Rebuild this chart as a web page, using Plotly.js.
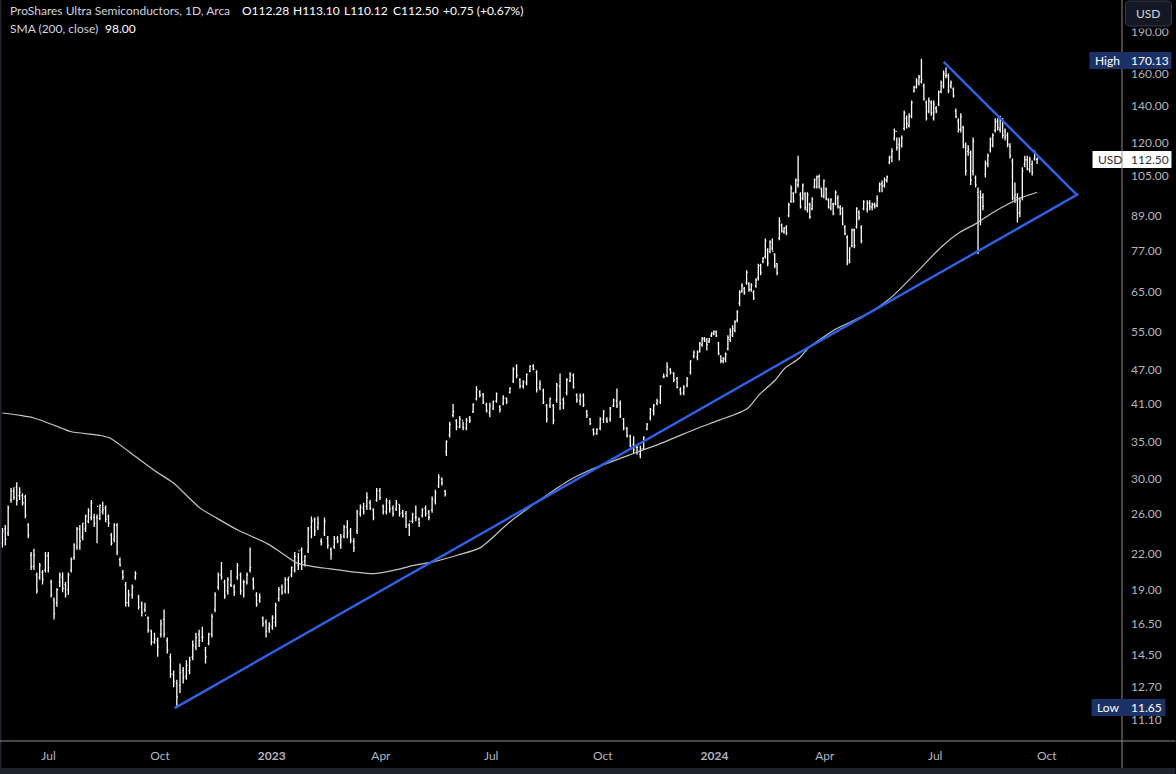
<!DOCTYPE html>
<html><head><meta charset="utf-8">
<script src="https://cdn.plot.ly/plotly-3.0.1.min.js"></script>
<style>html,body{margin:0;padding:0;background:#000;overflow:hidden}#chart{width:1176px;height:774px}</style>
</head><body><div id="chart"></div>
<script>
// Period 1: May - Sep 2022
const start1='2022-05-24', end1='2022-09-05';
const high1=[24.5,24.8,26.9,28.9,29,29.6,29,28.3,28.1,25,22.2,22.5,20.4,21.2,20.6,22.2,22.2,19.8,18.4,19.1,20.4,20.4,19.6,20.4,21.7,23,24.6,24.8,25,25.9,26.6,27.5,26,25.9,27,27.3,26.9,25.9,24,25,25,21.7,20.6,19.6,19];
const low1=[22.6,22.8,23.7,27.2,27.5,26.9,27.5,26.9,25.5,23.5,20.6,20.6,18.7,19.8,19.4,20.4,20.4,18.4,16.8,17.7,19.2,18.8,18.4,18.6,20.4,21.5,22.4,22.4,23.3,24.1,25,25.3,24.6,23,25.3,25.9,25.1,24.6,22.8,23.1,21.9,20.9,19.8,17.7,17.7];
const open1=[23.0,24.4,24.0,27.5,28.5,29.0,28.0,28.0,27.9,24.8,21.9,20.9,20.2,20.0,20.4,20.6,21.9,19.6,18.2,18.0,19.6,20.0,19.4,19.0,20.6,21.7,22.6,24.4,23.6,24.4,25.2,25.6,25.6,25.6,25.5,26.2,26.6,25.7,23.8,23.4,24.8,21.5,20.4,19.4,18.0];
const close1=[24.2,23.4,26.6,28.6,27.8,27.5,28.4,27.2,25.8,23.8,20.9,21.9,18.9,21.0,19.8,21.8,20.8,18.6,17.2,19.0,20.2,19.1,18.6,20.2,21.5,22.8,24.4,23.2,25.0,25.7,26.3,27.2,25.0,26.8,26.9,26.4,25.4,25.0,23.0,24.8,22.2,21.0,20.0,18.0,18.6];
// Period 2: Sep 2022 - Jan 2023
const start2='2022-09-08', end2='2023-01-20';
const high2=[19.4,20.5,18.6,18.1,18,17,16.1,15.9,15.6,16.8,17.5,15.6,14.6,13.6,13.1,14,13.8,14.2,14.4,15.4,15.9,16.1,16.3,15,15.9,17.2,18.8,20.4,21.3,19.8,20,20.6,19.4,21.2,20.4,19.8,20.4,22.6,20,18.8,18.7,17,16.8,16.6,17.1,18,19.2,19.4,20,20,20.9,22.2];
const low2=[18.3,19.8,17.5,17,17.3,15.9,15.1,15.2,14.4,15.6,15.6,14.6,13.2,12.7,11.65,12.4,12.9,13.1,13.4,14.2,14.8,15,15.3,14,15.1,15.6,17.3,19,19.8,18.3,18.6,19.2,18.5,19.8,18.6,18.4,19.4,20.4,19,17.7,18,16.3,15.6,15.9,16.1,16.3,18.1,18.6,18.7,18.7,20,20.4];
const open2=[18.6,20.0,18.4,17.9,17.5,16.9,16.0,15.3,15.4,15.8,16.8,15.4,14.4,13.4,12.9,12.8,13.6,13.3,13.6,14.4,15.0,15.8,15.6,14.8,15.2,15.8,17.5,19.2,20.2,19.6,18.9,19.4,19.2,20.0,20.2,19.6,19.6,20.6,19.8,18.6,18.2,16.9,16.6,16.2,16.3,16.6,18.3,19.2,18.9,19.8,20.2,20.6];
const close2=[19.2,20.3,17.7,17.3,17.1,16.1,15.3,15.5,15.0,16.5,15.8,14.8,13.4,13.0,12.2,13.5,13.2,13.9,14.2,15.1,15.6,15.4,15.6,14.4,15.8,17.0,18.6,20.2,20.0,18.5,19.8,19.3,18.8,21.0,18.9,19.6,20.2,20.8,19.2,17.9,18.4,16.5,16.0,16.4,16.9,17.8,19.0,18.8,19.8,20.0,20.8,21.8];
// Period 3: Jan - May 2023
const start3='2023-01-23', end3='2023-05-24';
const high3=[22.1,22.6,21.9,24.6,25.7,25.6,25.7,23.5,25.6,23.7,22.6,23.7,23.7,23.9,24.8,25.3,24.5,23.5,26.4,27,27.2,28.4,27.5,26.6,28.9,28.9,27,27.7,27.5,26.9,27.5,27,26.4,26.3,25,26.1,26.9,25.6,26.6,26.9,26.4,27.9,28.7,30.6,30.2,28.7];
const low3=[20.6,20.6,20.9,22.1,23.5,23.7,24.3,22.8,23.7,22.5,21.5,22.5,23,22.5,23.5,23.5,23,22.2,23.9,25.7,25.9,26.4,26.4,25.3,27.3,27.5,25.9,25.9,26.1,25.7,26.3,25.7,25.6,24.5,23.7,25,25.2,24.6,25.6,25.7,25.3,26.1,27,28.9,29.2,27.9];
const open3=[21.0,22.4,21.4,22.3,24.6,25.4,24.6,23.2,24.0,23.5,22.4,22.7,23.5,22.8,23.7,24.6,24.2,23.2,24.2,26.0,26.6,26.8,27.2,26.4,27.5,28.6,26.8,26.2,27.2,26.6,26.5,27.0,26.1,26.0,24.8,25.2,25.6,25.4,25.8,26.6,26.2,26.4,27.4,29.2,30.0,28.5];
const close3=[22.3,21.3,21.8,24.4,25.2,24.2,25.0,23.1,25.2,22.8,22.0,23.4,23.2,23.6,24.6,24.0,23.3,22.6,26.2,26.7,26.2,27.8,26.6,25.6,28.6,27.8,26.2,27.4,26.5,26.0,27.2,26.0,25.8,24.8,25.2,25.9,25.6,25.0,26.4,26.0,25.6,27.6,28.4,30.2,29.5,28.2];
// Period 4: May - Dec 2023
const start4='2023-05-25', end4='2023-12-15';
const high4=[35.2,38,40.9,38.4,38.9,38,38.6,38.9,41,44,43.3,42.8,41.1,41.1,41.5,42.9,40.7,42.4,42,43.8,47.6,48.2,45.5,45.1,46.4,48,48.2,47,45.1,43.6,40.9,42,40.9,44.6,46.4,42,45.5,46.6,46.4,42.7,42.7,42.7,39.9,38.6,37,37,38.7,39.9,38.7,40.4,41.8,43.6,41.5,38.6,37.2,36,35.8,34.6,34.4,35.8,37.8,40.2,40.9,41.8,44.2,46.4,48.6,47.4,46.6,45.7,43.8,44.2,45.7,49,51];
const low4=[33,35.6,38.7,36.7,37,36.7,36.7,37.8,39.4,41.5,42,40.9,39.5,38.7,39.9,41.1,39.5,40.7,40.9,42.7,44.6,45.5,43.6,43.6,44.2,46.6,47,42.9,43.3,40.9,37.9,40.2,37.6,41.1,39.9,40,42.4,44.8,43.6,41.1,40.7,40.4,38.6,37.5,35.9,36,36.7,37.8,37.8,38,40.4,40.2,38.6,36.7,35.6,34.2,33.4,33.2,32.7,33.8,36.7,38.2,39,40.7,40.9,45.5,45.7,46.2,44.8,43.6,42.4,42.4,43.8,46.2,49.4];
const open4=[33.6,36.0,39.0,38.2,37.2,38.2,37.0,38.6,39.6,41.8,43.0,42.6,40.8,39.4,40.2,41.4,40.4,41.0,41.8,42.9,45.0,47.8,45.2,44.0,44.6,46.8,47.8,46.6,43.8,43.2,40.6,40.6,40.6,41.6,44.0,41.6,42.8,45.0,46.0,42.4,41.4,42.4,39.6,38.4,36.8,36.2,37.0,38.4,38.4,38.4,40.6,41.4,41.0,38.4,36.9,35.8,34.6,34.2,33.2,34.0,36.9,38.6,39.8,41.0,41.2,45.8,46.0,47.2,46.4,45.4,43.4,42.8,44.2,46.6,49.8];
const close4=[35.0,37.6,39.6,37.2,38.4,37.1,38.2,38.2,40.8,43.4,42.4,41.2,39.8,40.6,41.3,42.6,40.0,41.9,41.2,43.6,47.2,46.0,44.0,44.8,46.2,47.8,47.2,43.4,44.4,41.2,38.4,41.8,38.2,44.2,41.0,41.0,45.2,46.2,43.9,41.6,42.2,40.8,39.0,37.7,36.2,36.8,38.4,39.6,38.1,40.2,41.6,40.6,38.9,37.0,35.9,34.4,33.8,34.2,34.0,35.6,37.6,40.0,40.6,41.4,44.0,45.8,47.6,46.6,45.2,43.8,42.7,43.9,45.4,48.8,50.6];
// Period 5: Dec 2023 - May 2024
const start5='2023-12-18', end5='2024-05-03';
const high5=[51,52.8,53.9,53.9,53.7,53.7,55,55.4,55.4,52.8,50,49.6,50.6,54.3,55.9,56.6,57.8,60.2,65.4,67.3,66.3,71,67.6,67.3,65.4,68.7,73,73,75,81,77.8,80.4,81,76.2,73.1,88.4,86.2,84.8,85.5,93.9,100.8,98,103.8,114,98,101.6,98,98,93.9,96,103.8,105,105.5,100,103.3,100,95.6,95.6,93.9,98.8,96.8,92.9,92.1,85.5,82.1,78.1,84.4,84.4,92.1,91,85.5,94.8];
const low5=[49,50.6,51.8,52.8,51,52.6,53.9,54.3,53.9,50,48.4,48.4,48.6,51,52.8,53.9,55,57.3,61.3,64.7,64.2,66.9,65,65,62.8,66.1,68.1,69.6,73.1,74.6,72.2,76.2,77.1,71.6,69.6,80.4,83,82.6,82.1,88.4,93.9,93.9,97.6,100,91.7,94.8,91,90.2,87.9,91,99.6,99.6,99.6,96,95.6,94.8,91.7,91,89.1,92.9,91.7,89.1,85.5,82.1,72.5,73.1,78.1,77.8,84.4,87.3,79.4,91];
const open5=[49.6,50.9,52.2,53.6,53.4,52.9,54.2,54.6,55.0,52.4,49.8,48.8,49.2,51.4,53.4,54.4,55.4,57.8,62.0,65.2,65.8,67.4,67.2,65.6,64.8,66.6,68.8,72.4,73.6,75.2,77.2,76.8,77.8,75.8,73.0,81.0,85.6,83.2,84.8,89.0,94.4,97.6,98.2,101.0,97.0,95.6,97.4,91.2,93.2,91.6,100.2,100.4,104.6,99.4,96.2,99.4,95.0,91.6,93.4,93.4,95.6,92.0,91.6,85.0,81.4,74.0,78.6,83.8,85.0,90.2,84.8,91.6];
const close5=[50.6,52.4,53.4,53.0,52.2,53.4,54.8,55.2,54.2,50.4,48.9,49.4,50.2,53.8,55.2,55.8,57.4,59.8,64.8,66.6,64.8,70.4,65.6,66.8,63.4,68.2,72.4,70.4,74.6,80.2,73.2,79.8,76.8,72.4,70.2,87.0,83.6,84.6,82.8,93.0,99.6,94.6,103.0,103.0,92.4,100.8,92.0,97.0,88.6,95.4,103.2,104.4,100.4,96.8,102.8,95.4,92.2,95.0,89.8,98.0,92.4,90.0,86.0,82.6,73.2,77.8,83.8,78.6,91.6,88.4,80.2,94.2];
// Period 6: May - Sep 2024
const start6='2024-05-06', end6='2024-09-23';
const high6=[94.8,94.8,93.9,93.9,96.8,102.1,102.9,104.2,105,114,117.5,127.5,122.9,122.9,123.9,137.4,134.6,135.8,143.2,152.2,156.9,159,170.13,153.5,143.2,145,143.2,143.2,140,149.2,155.5,162,164,160,155.5,151,138.5,133,135.8,129,120.4,119,116.5,122.9,105,100,98.8,97.6,111.8,115,122.9,125,133,133,134.5,133,127.5,125.5,120,112.7,102,97.6,96,108.7,114,114,113.5,111.8,116.5,113.1];
const low6=[90.2,91,91,91.7,92.1,98,98,100,102.1,110,111,121.4,116.5,111.8,117.9,126.5,127.5,128,133,148,150.5,152.3,153.5,143.2,131.8,135.8,134.5,131.8,135.8,140,147.5,150.5,157,147.5,150.5,145,133,125.5,125.5,117.5,105,114,101,105,100,76,85.5,91,104.2,108.7,115.5,118,125.5,126.5,125.5,122.4,121.4,118,112.7,94.8,93.9,86.5,88.4,94.8,108.7,107.3,106.4,105,111.8,110.12];
const open6=[91.4,93.8,92.2,93.2,92.8,99.0,101.6,100.8,103.0,111.0,113.4,122.4,126.0,119.4,118.8,127.6,132.8,129.0,134.4,149.0,151.4,153.8,154.8,152.0,142.0,137.0,142.0,133.0,138.6,141.0,148.6,152.0,158.6,158.4,152.0,150.0,137.0,131.5,127.0,128.0,118.0,116.0,115.5,107.0,104.0,98.0,87.0,96.0,105.5,110.0,116.8,119.0,126.5,131.5,127.0,132.0,126.0,124.0,118.5,111.5,95.5,96.0,90.0,96.0,110.0,112.0,107.5,110.0,112.5,112.28];
const close6=[93.6,92.4,93.0,92.6,95.6,101.2,100.6,103.2,104.4,113.0,116.0,126.0,118.0,117.6,122.6,136.0,130.0,134.0,142.0,151.0,155.0,157.6,156.0,144.0,133.0,143.0,136.0,141.0,137.0,148.0,154.0,160.0,159.0,149.0,154.0,146.0,134.0,127.0,134.0,119.0,107.0,117.0,103.0,121.0,101.0,96.0,96.0,92.5,110.5,114.0,122.0,124.0,131.0,128.0,132.0,124.0,123.0,119.5,114.0,96.0,97.0,90.0,94.5,107.0,112.0,108.0,112.0,106.5,115.0,112.5];

const smaDates=['2022-05-24','2022-06-08','2022-06-19','2022-07-12','2022-07-19','2022-08-13','2022-08-21','2022-09-06','2022-09-26','2022-10-12','2022-11-03','2022-11-17','2022-12-04','2022-12-28','2023-01-08','2023-01-22','2023-02-18','2023-03-27','2023-04-17','2023-04-28','2023-05-14','2023-06-03','2023-06-22','2023-07-16','2023-08-10','2023-09-04','2023-09-20','2023-10-29','2023-11-20','2023-12-18','2024-01-05','2024-01-28','2024-02-07','2024-02-20','2024-02-28','2024-03-11','2024-03-19','2024-03-25','2024-04-08','2024-04-22','2024-05-08','2024-05-25','2024-06-18','2024-07-05','2024-07-21','2024-08-04','2024-08-17','2024-08-29','2024-09-11','2024-09-23'];
const smaValues=[39.4,39.0,38.6,37.0,36.5,35.9,35.5,33.5,31.1,29.5,26.6,25.5,24.3,23.0,22.2,21.2,20.7,20.3,20.7,21.0,21.3,21.9,22.6,25.1,27.5,29.9,31.1,33.5,34.9,37.0,38.25,40.1,42.5,45.1,47.4,49.4,51.7,52.8,55.4,57.3,59.7,63.3,71.3,77.8,83.0,86.2,90.0,93.1,96.0,98.0];

const supportDates=['2022-10-13','2024-10-27'];
const supportValues=[11.65,97.3];
const resistanceDates=['2024-07-08','2024-10-26'];
const resistanceValues=[167.9,96.9];

const priceTicks=[190,160,140,120,105,89,77,65,55,47,41,35,30,26,22,19,16.5,14.5,12.7,11.1];
const monthTicks=['2022-07-01','2022-10-01','2023-01-01','2023-04-01','2023-07-01','2023-10-01','2024-01-01','2024-04-01','2024-07-01','2024-10-01'];
const monthLabels=['Jul','Oct','<b>2023</b>','Apr','Jul','Oct','<b>2024</b>','Apr','Jul','Oct'];

const periods=[
 [start1,end1,open1,high1,low1,close1],[start2,end2,open2,high2,low2,close2],
 [start3,end3,open3,high3,low3,close3],[start4,end4,open4,high4,low4,close4],
 [start5,end5,open5,high5,low5,close5],[start6,end6,open6,high6,low6,close6]];

const FONT='Lato, "Noto Sans", sans-serif';
const W=1122.5, H=741;
const px=x=>x/W, py=y=>(H-y)/H;
const barLine={line:{color:'#ffffff',width:1.3}};

const traces=periods.map(([s,e,o,h,l,c])=>{
  const a=Date.parse(s), b=Date.parse(e), n=h.length;
  if(o.length!==n||l.length!==n||c.length!==n) throw new Error('length mismatch '+s+' '+[o.length,n,l.length,c.length]);
  const x=h.map((_,i)=>new Date(a+(b-a)*i/(n-1)).toISOString());
  return {type:'ohlc',x,open:o,high:h,low:l,close:c,increasing:barLine,decreasing:barLine,tickwidth:0.45,hoverinfo:'skip',showlegend:false};
});
traces.push({type:'scatter',mode:'lines',x:smaDates,y:smaValues,line:{color:'#c4c4c4',width:1.2,shape:'spline',smoothing:0.7},hoverinfo:'skip',showlegend:false});
traces.push({type:'scatter',mode:'lines',x:supportDates,y:supportValues,line:{color:'#2e62e6',width:2.4},hoverinfo:'skip',showlegend:false});
traces.push({type:'scatter',mode:'lines',x:resistanceDates,y:resistanceValues,line:{color:'#2e62e6',width:2.4},hoverinfo:'skip',showlegend:false});

function rect(x0,y0,x1,y1,fill){return {type:'rect',xref:'paper',yref:'paper',layer:'above',x0:px(x0),x1:px(x1),y0:py(y0),y1:py(y1),fillcolor:fill,line:{width:0}};}
function hline(x0,x1,y,c){return {type:'line',xref:'paper',yref:'paper',layer:'above',x0:px(x0),x1:px(x1),y0:py(y),y1:py(y),line:{color:c,width:1}};}
function vline(x,y0,y1,c){return {type:'line',xref:'paper',yref:'paper',layer:'above',x0:px(x),x1:px(x),y0:py(y0),y1:py(y1),line:{color:c,width:1}};}
function rrect(x0,y0,x1,y1,r,fill,stroke){
  const X=v=>px(v).toFixed(5), Y=v=>py(v).toFixed(5);
  const p=`M ${X(x0+r)} ${Y(y0)} L ${X(x1-r)} ${Y(y0)} Q ${X(x1)} ${Y(y0)} ${X(x1)} ${Y(y0+r)} L ${X(x1)} ${Y(y1-r)} Q ${X(x1)} ${Y(y1)} ${X(x1-r)} ${Y(y1)} L ${X(x0+r)} ${Y(y1)} Q ${X(x0)} ${Y(y1)} ${X(x0)} ${Y(y1-r)} L ${X(x0)} ${Y(y0+r)} Q ${X(x0)} ${Y(y0)} ${X(x0+r)} ${Y(y0)} Z`;
  return {type:'path',xref:'paper',yref:'paper',layer:'above',path:p,fillcolor:fill,line:{color:stroke,width:1}};
}
const AXIS='#8c8c8c', NAVY='#1c3166', STRIP='#1e222d';
const shapes=[
  rect(0,0,1.6,768,STRIP),
  rect(0,768,1176,774,STRIP),
  hline(0,1176,741,AXIS),
  vline(1122.5,0,768,AXIS),
  rect(1124,0,1176,28.5,'#000000'),
  rrect(1126,1,1172,26,4,'#141824','#363a45'),
  rect(1090,52,1172,69,NAVY),
  rect(1092,699,1166,716,NAVY),
  rect(1093,151,1172,168,'#ffffff'),
  vline(1122.5,151,168,'#9a9a9a'),
];
function note(x,y,text,color,size,anchor){return {xref:'paper',yref:'paper',x:px(x),y:py(y),text,showarrow:false,xanchor:anchor||'left',yanchor:'middle',align:'left',font:{family:FONT,size:size||12,color},borderpad:0};}
const GREY='#d1d4dc', BRIGHT='#ffffff';
const annotations=[
  note(9,10.5,'ProShares Ultra Semiconductors, 1D, Arca',GREY),
  note(241,10.5,'O112.28',BRIGHT),
  note(292,10.5,'H113.10',BRIGHT),
  note(343,10.5,'L110.12',BRIGHT),
  note(392,10.5,'C112.50',BRIGHT),
  note(442,10.5,'+0.75 (+0.67%)',BRIGHT),
  note(9,28,'SMA (200, close)',GREY),
  note(104,28,'98.00',BRIGHT),
  note(1149,13.5,'USD',GREY,12,'center'),
  note(1094,60.5,'High',BRIGHT),
  note(1131,60.5,'170.13',BRIGHT),
  note(1096,707.5,'Low',BRIGHT),
  note(1131,707.5,'11.65',BRIGHT),
  note(1097,159.5,'USD','#2a2e39'),
  note(1131,159.5,'112.50','#2a2e39'),
];

const layout={
  width:1176,height:774,
  margin:{l:0,r:53.5,t:0,b:33,pad:0},
  paper_bgcolor:'#000000',plot_bgcolor:'#000000',
  font:{family:FONT,size:12,color:'#b2b5be'},
  showlegend:false,dragmode:false,
  xaxis:{type:'date',range:['2022-05-22','2024-12-02'],showgrid:false,zeroline:false,showline:false,
    tickmode:'array',tickvals:monthTicks,ticktext:monthLabels,ticks:'',ticklen:0,
    tickfont:{family:FONT,size:12,color:'#b2b5be'},ticklabelstandoff:6,rangeslider:{visible:false},fixedrange:true},
  yaxis:{type:'log',side:'right',range:[Math.log10(10.17),Math.log10(216.8)],showgrid:false,zeroline:false,showline:false,
    tickmode:'array',tickvals:priceTicks,ticktext:priceTicks.map(v=>v.toFixed(2)),ticks:'',ticklen:0,
    tickfont:{family:FONT,size:12,color:'#b2b5be'},ticklabelstandoff:8,fixedrange:true},
  shapes,annotations
};
Plotly.newPlot('chart',traces,layout,{staticPlot:true,displayModeBar:false,responsive:false});
</script></body></html>
